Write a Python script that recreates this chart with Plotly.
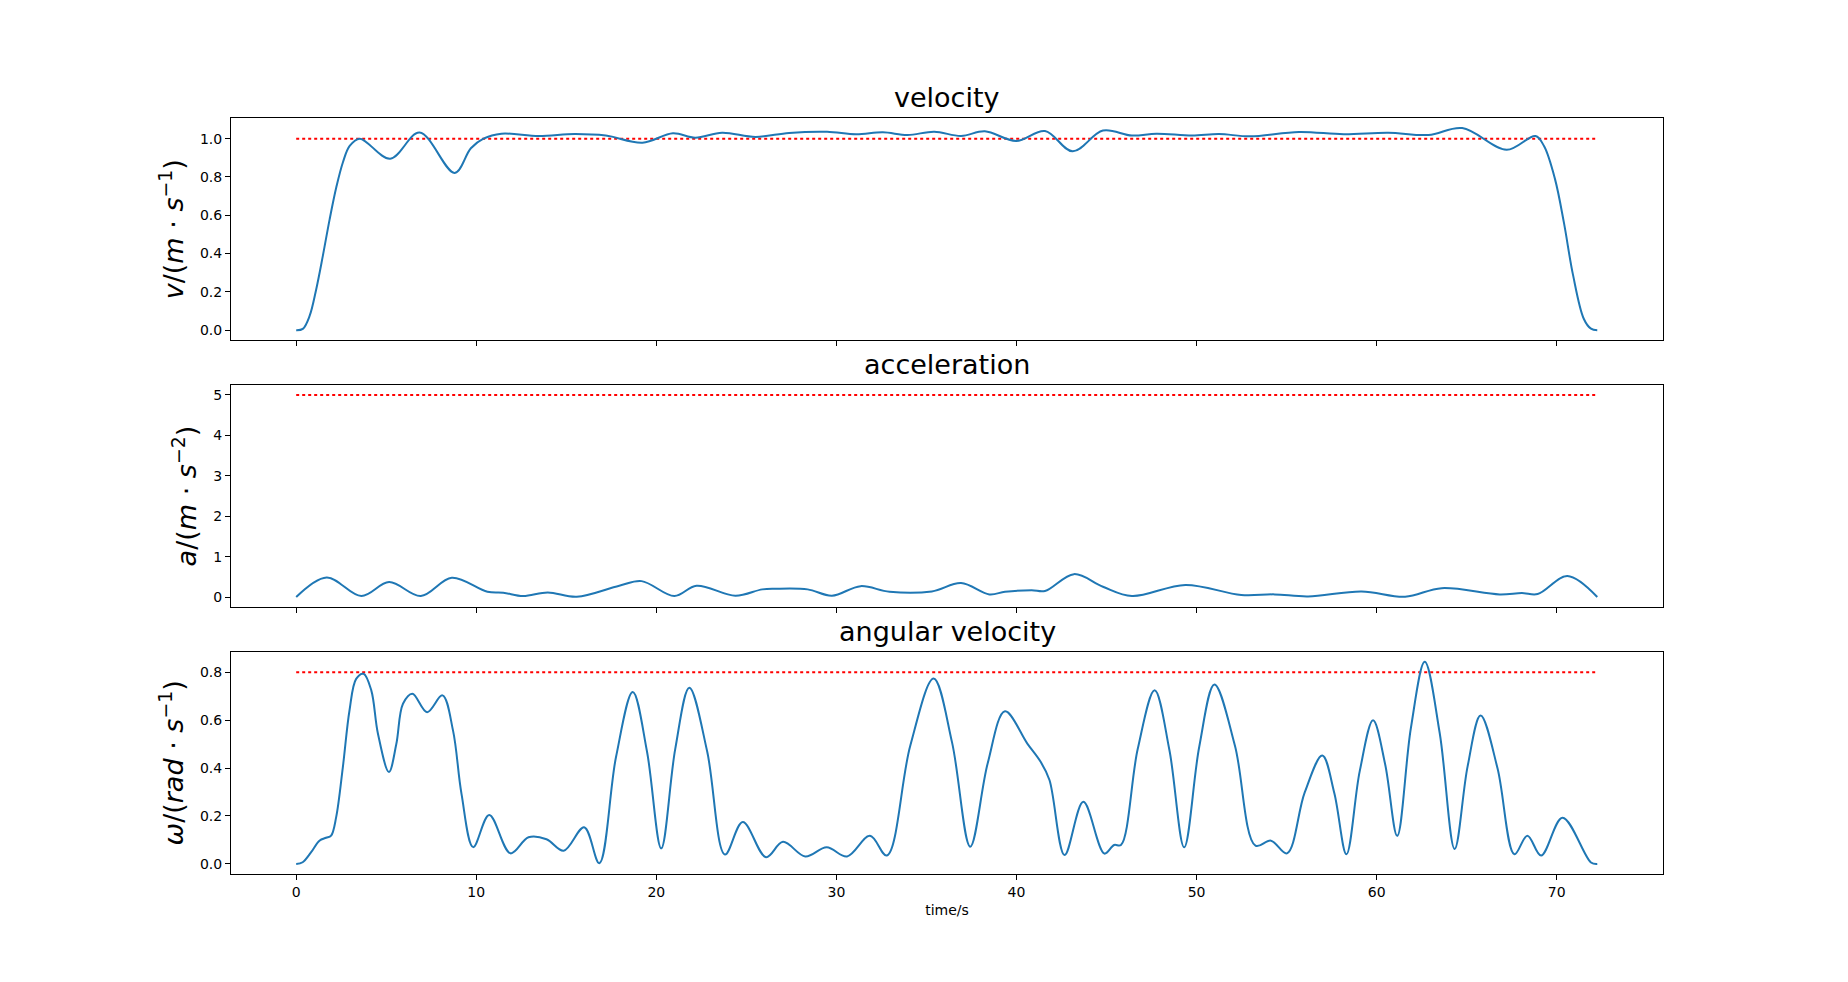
import plotly.graph_objects as go
from plotly.subplots import make_subplots

# ===========================================================================
# velocity (m/s)
t_vel = [0, 0.37, 0.74, 1.11, 1.48, 1.86, 2.23, 2.6, 2.97, 3.53, 5.22, 6.85, 8.8, 9.7, 10.4, 11.4,
         13.47, 15.46, 17.19, 19.23, 20.92, 22.16, 23.65, 25.51, 27.37, 29.48, 31.09,
         32.58, 33.95, 35.43, 36.92, 38.24, 39.98, 41.58, 43.12, 44.8, 46.41, 47.77,
         49.75, 51.24, 52.97, 55.69, 58.17, 60.64, 62.87, 64.75, 67.22, 68.82, 69.3,
         69.9, 70.4, 70.9, 71.5, 71.9, 72.25]
vel = [0.0, 0.007, 0.073, 0.213, 0.388, 0.58, 0.747, 0.878, 0.962, 1.0, 0.895, 1.032, 0.821, 0.95,
       1.0, 1.026,
       1.014, 1.024, 1.016, 0.979, 1.028, 1.005, 1.031, 1.009, 1.03, 1.036, 1.023,
       1.033, 1.019, 1.036, 1.014, 1.038, 0.988, 1.04, 0.934, 1.042, 1.016, 1.026,
       1.016, 1.024, 1.012, 1.035, 1.023, 1.031, 1.019, 1.055, 0.942, 1.014, 0.96,
       0.79, 0.56, 0.29, 0.06, 0.008, 0.0]

# acceleration (m/s^2)
t_acc = [0, 1.69, 3.62, 5.16, 6.92, 8.64, 10.62, 11.5, 12.6, 13.97, 15.58, 17.94, 19.18,
         21.0, 22.23, 24.39, 25.88, 26.6, 28.4, 29.75, 31.34, 32.95, 35.3, 36.92, 38.49,
         39.36, 40.84, 41.58, 43.19, 44.8, 46.41, 49.38, 52.48, 54.33, 56.19, 59.16,
         61.58, 63.61, 66.83, 68.07, 68.94, 70.59, 72.25]
acc = [0.0, 0.485, 0.025, 0.37, 0.025, 0.477, 0.13, 0.107, 0.025, 0.115, 0.008, 0.28, 0.394,
       0.025, 0.28, 0.033, 0.19, 0.205, 0.19, 0.033, 0.27, 0.13, 0.14, 0.345, 0.066,
       0.13, 0.17, 0.15, 0.567, 0.255, 0.025, 0.30, 0.05, 0.066, 0.016, 0.14,
       0.008, 0.22, 0.066, 0.1, 0.074, 0.52, 0.0]

# angular velocity (rad/s)
t_omega = [0, 0.36, 0.83, 1.29, 1.66, 1.94, 2.22, 2.59, 2.96, 3.33, 3.74, 4.17, 4.54, 5.15,
           5.56, 5.93, 6.45, 7.27, 8.12, 8.71, 9.18, 9.83,
           10.72, 11.9, 12.9, 13.9, 14.85, 15.99, 16.83, 17.76, 18.69, 19.48, 20.27,
           21.05, 21.83, 22.82, 23.81, 24.8, 26.09, 27.03, 28.27, 29.46, 30.59, 31.86,
           32.8, 34.1, 35.4, 36.42, 37.43, 38.4, 39.36, 40.6, 41.34, 41.83, 42.67, 43.71,
           44.88, 45.42, 45.8, 46.73, 47.67, 48.49, 49.31, 50.15, 50.99, 52.13, 53.27, 54.13,
           55.02, 56.0, 56.98, 57.65, 58.32, 59.06, 59.8, 60.47, 61.14, 61.9, 62.67, 63.5,
           64.33, 65.05, 65.77, 66.71, 67.65, 68.37, 69.13, 70.32, 71.9, 72.25]
omega = [0.0, 0.007, 0.049, 0.097, 0.109, 0.118, 0.195, 0.403, 0.64, 0.772, 0.793, 0.724, 0.543,
         0.383, 0.50, 0.668, 0.71, 0.633, 0.703, 0.556, 0.292, 0.07,
         0.204, 0.044, 0.111, 0.103, 0.055, 0.153, 0.003, 0.446, 0.717, 0.469, 0.065,
         0.48, 0.735, 0.47, 0.039, 0.175, 0.028, 0.092, 0.031, 0.069, 0.031, 0.117,
         0.035, 0.493, 0.773, 0.507, 0.072, 0.42, 0.637, 0.502, 0.426, 0.35, 0.037, 0.259,
         0.043, 0.079, 0.079, 0.479, 0.724, 0.475, 0.069, 0.49, 0.748, 0.493, 0.076, 0.097,
         0.044, 0.297, 0.452, 0.295, 0.040, 0.387, 0.599, 0.416, 0.117, 0.567, 0.843, 0.546,
         0.062, 0.407, 0.619, 0.399, 0.040, 0.118, 0.035, 0.193, 0.006, 0.0]

# limits (red dotted lines)
limit_t = [0, 72.2]
v_max = 1.0
a_max = 5.0
w_max = 0.8

titles = ["velocity", "acceleration", "angular velocity"]
ylabels = ["<i>v</i>/(<i>m</i> · <i>s</i><sup>−1</sup>)",
           "<i>a</i>/(<i>m</i> · <i>s</i><sup>−2</sup>)",
           "<i>ω</i>/(<i>rad</i> · <i>s</i><sup>−1</sup>)"]


# ===========================================================================
fig = make_subplots(rows=3, cols=1, shared_xaxes=True, vertical_spacing=0.0589)

series = [(t_vel, vel, v_max), (t_acc, acc, a_max), (t_omega, omega, w_max)]
for i, (tt, yy, lim) in enumerate(series, start=1):
    fig.add_trace(go.Scatter(x=limit_t, y=[lim, lim], mode="lines",
                             line=dict(color="red", width=2, dash="dot")), row=i, col=1)
    fig.add_trace(go.Scatter(x=tt, y=yy, mode="lines",
                             line=dict(color="#1f77b4", width=2, shape="spline", smoothing=1)),
                  row=i, col=1)

axis_style = dict(showline=True, linecolor="black", linewidth=1, mirror=True,
                  ticks="outside", ticklen=5, tickwidth=1, tickcolor="black",
                  showgrid=False, zeroline=False,
                  tickfont=dict(family="DejaVu Sans", size=14, color="black"))

for i in range(1, 4):
    fig.update_xaxes(axis_style, range=[-3.62, 75.9], tickvals=[0, 10, 20, 30, 40, 50, 60, 70],
                     row=i, col=1)

fig.update_xaxes(title=dict(text="time/s", font=dict(family="DejaVu Sans", size=14, color="black"),
                            standoff=6), row=3, col=1)

fig.update_yaxes(axis_style, range=[-0.0527, 1.1077], tickvals=[0, 0.2, 0.4, 0.6, 0.8, 1.0],
                 tickformat=".1f", row=1, col=1)
fig.update_yaxes(axis_style, range=[-0.25, 5.25], tickvals=[0, 1, 2, 3, 4, 5], row=2, col=1)
fig.update_yaxes(axis_style, range=[-0.0421, 0.8853], tickvals=[0, 0.2, 0.4, 0.6, 0.8],
                 tickformat=".1f", row=3, col=1)

for i, lab in enumerate(ylabels, start=1):
    fig.update_yaxes(title=dict(text=lab, font=dict(family="DejaVu Sans", size=27, color="black"),
                                standoff=8), row=i, col=1)

# subplot titles
for i, txt in enumerate(titles, start=1):
    yref = "y domain" if i == 1 else f"y{i} domain"
    fig.add_annotation(text=txt, xref="x domain", yref=yref, x=0.5, y=1,
                       xanchor="center", yanchor="bottom", yshift=3, showarrow=False,
                       font=dict(family="DejaVu Sans", size=27, color="black"))

# page body has an 8px margin, so size the figure to sit inside the window
fig.update_layout(width=1832, height=966, showlegend=False,
                  margin=dict(l=223, r=177, t=110, b=100),
                  plot_bgcolor="white", paper_bgcolor="white")

fig.write_html("out.html")
